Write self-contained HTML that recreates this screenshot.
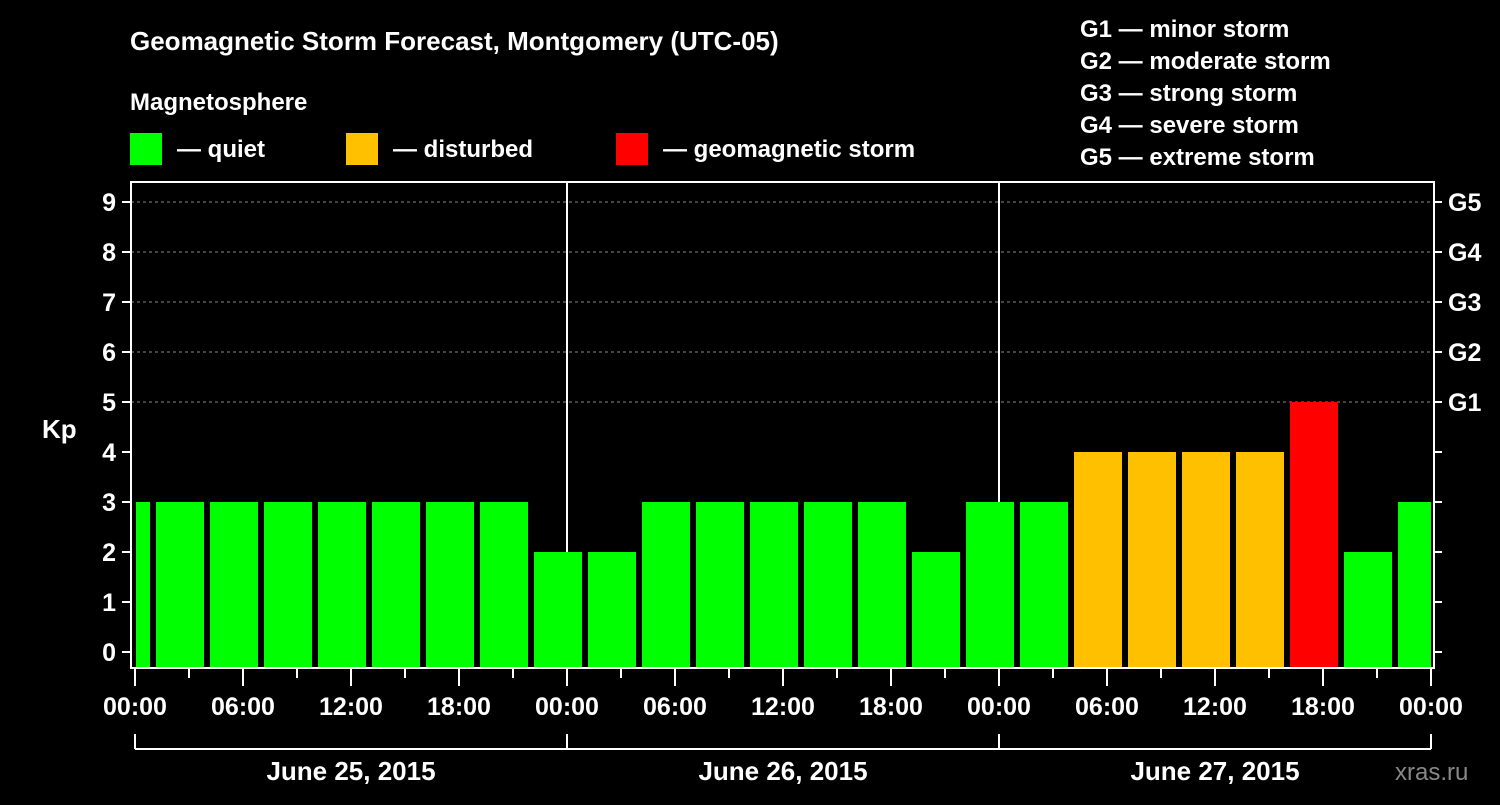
<!DOCTYPE html>
<html><head><meta charset="utf-8"><style>
body{margin:0;background:#000;}
svg text{font-family:"Liberation Sans",Arial,sans-serif;font-weight:bold;fill:#fff;}
</style></head><body>
<svg id="chart" width="1500" height="800" xmlns="http://www.w3.org/2000/svg">
<rect width="1500" height="800" fill="#000"/>
<text x="130" y="50" font-size="26">Geomagnetic Storm Forecast, Montgomery (UTC-05)</text>
<text x="130" y="110" font-size="24">Magnetosphere</text>
<g><rect x="130" y="133" width="32" height="32" fill="#00ff00"/><text x="177" y="157" font-size="24">— quiet</text></g>
<g><rect x="346" y="133" width="32" height="32" fill="#ffc000"/><text x="393" y="157" font-size="24">— disturbed</text></g>
<g><rect x="616" y="133" width="32" height="32" fill="#ff0000"/><text x="663" y="157" font-size="24">— geomagnetic storm</text></g>
<g font-size="24">
<text x="1080" y="37">G1 — minor storm</text><text x="1080" y="69">G2 — moderate storm</text><text x="1080" y="101">G3 — strong storm</text><text x="1080" y="133">G4 — severe storm</text><text x="1080" y="165">G5 — extreme storm</text></g>
<text x="42" y="438" font-size="26">Kp</text>
<g id="grid"></g><g id="bars"></g><g id="axes"></g>
<text x="1395" y="780" font-size="24" fill="#888" style="fill:#888;font-weight:normal">xras.ru</text>
</svg>
<script>
const kpValues=[3,3,3,3,3,3,3,3,2,2,3,3,3,3,3,2,3,3,4,4,4,4,5,2,3];
const binStartHour=-2;
const yTicks=[0,1,2,3,4,5,6,7,8,9];
const gLabels=["G1","G2","G3","G4","G5"];
const xTickLabels=["00:00","06:00","12:00","18:00","00:00","06:00","12:00","18:00","00:00","06:00","12:00","18:00","00:00"];
const dayLabels=["June 25, 2015","June 26, 2015","June 27, 2015"];
const NS="http://www.w3.org/2000/svg";
const X0=135,PX_H=18,L=131,R=1434,T=182,B=668;
const xs=h=>X0+h*PX_H, ys=v=>652-v*50;
function mk(tag,attrs,parent){const e=document.createElementNS(NS,tag);for(const k in attrs)e.setAttribute(k,attrs[k]);parent.appendChild(e);return e;}
const grid=document.getElementById('grid'),bars=document.getElementById('bars'),axes=document.getElementById('axes');
for(let v=5;v<=9;v++){const l=mk('line',{x1:L,x2:R,y1:ys(v),y2:ys(v),stroke:'#888','stroke-dasharray':'3,3'},grid);

}
for(let d=1;d<3;d++){const l=mk('line',{x1:xs(d*24),x2:xs(d*24),y1:T,y2:B,stroke:'#fff','stroke-width':2},grid);

}
kpValues.forEach((v,i)=>{let x1=xs(binStartHour+i*3)+3,x2=xs(binStartHour+i*3+3)-3;
x1=Math.max(x1,X0+1);x2=Math.min(x2,xs(72));
const c=v>=5?'#ff0000':(v>=4?'#ffc000':'#00ff00');
const r=mk('rect',{x:x1,y:ys(v),width:x2-x1,height:B-ys(v),fill:c},bars);

});
const fr=mk('rect',{x:L,y:T,width:R-L,height:B-T,fill:'none',stroke:'#fff','stroke-width':2},axes);


yTicks.forEach(v=>{mk('line',{x1:L-9,x2:L,y1:ys(v),y2:ys(v),stroke:'#fff','stroke-width':2},axes);
mk('line',{x1:R,x2:R+8,y1:ys(v),y2:ys(v),stroke:'#fff','stroke-width':2},axes);
const t=mk('text',{x:116,y:ys(v)+9,'font-size':25,'text-anchor':'end'},axes);t.textContent=v;

});
gLabels.forEach((g,i)=>{const t=mk('text',{x:1448,y:ys(5+i)+9,'font-size':25},axes);t.textContent=g;

});
for(let h=0;h<=72;h+=3){const maj=h%6==0;mk('line',{x1:xs(h),x2:xs(h),y1:B,y2:B+(maj?18:10),stroke:'#fff','stroke-width':2},axes);}
xTickLabels.forEach((s,i)=>{const t=mk('text',{x:xs(i*6),y:715,'font-size':25,'text-anchor':'middle'},axes);t.textContent=s;

});
mk('line',{x1:xs(0),x2:xs(72),y1:749,y2:749,stroke:'#fff','stroke-width':2},axes);
for(let d=0;d<=3;d++)mk('line',{x1:xs(d*24),x2:xs(d*24),y1:734,y2:749,stroke:'#fff','stroke-width':2},axes);
dayLabels.forEach((s,i)=>{const t=mk('text',{x:xs(i*24+12),y:780,'font-size':26,'text-anchor':'middle'},axes);t.textContent=s;

});
</script>
</body></html>
